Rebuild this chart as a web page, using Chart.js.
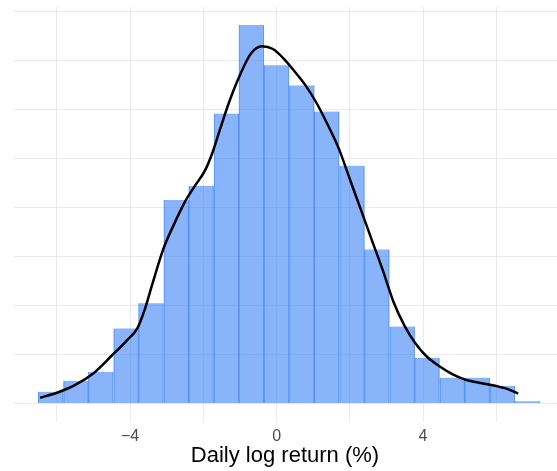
<!DOCTYPE html>
<html>
<head>
<meta charset="utf-8">
<script src="https://cdn.jsdelivr.net/npm/chart.js@4"></script>
<style>
  html, body { margin: 0; padding: 0; background: #fff; }
  #wrap { width: 557px; height: 471px; }
</style>
</head>
<body>
<div id="wrap"><canvas id="chart" width="557" height="471"></canvas></div>
<script>
// Histogram bins (centres, width 0.686) and density heights
const binCenters = [-6.17, -5.48, -4.80, -4.11, -3.43, -2.74, -2.06, -1.37, -0.69, 0.00,
                    0.69, 1.37, 2.06, 2.74, 3.43, 4.11, 4.80, 5.48, 6.17, 6.86];
const binDensity = [0.0060, 0.0116, 0.0162, 0.0383, 0.0512, 0.1038, 0.1110, 0.1479, 0.1930, 0.1725,
                    0.1622, 0.1489, 0.1213, 0.0786, 0.0393, 0.0234, 0.0132, 0.0132, 0.0091, 0.0012];

// Kernel density curve
const kdeX = [-6.46, -6.0, -5.5, -5.0, -4.5, -4.1, -3.8, -3.6, -3.4, -3.1, -2.8, -2.5, -2.25, -1.95,
              -1.75, -1.55, -1.3, -1.0, -0.7, -0.4, -0.1, 0.2, 0.5, 0.8, 1.1, 1.4, 1.7, 2.0,
              2.3, 2.6, 2.9, 3.2, 3.5, 3.8, 4.1, 4.47, 4.8, 5.15, 5.5, 5.83, 6.1, 6.3, 6.6];
const kdeY = [0.0030, 0.0055, 0.0095, 0.0155, 0.0245, 0.0320, 0.0385, 0.0480, 0.0605, 0.0785,
              0.0915, 0.1030, 0.1105, 0.1190, 0.1280, 0.1395, 0.1535, 0.1675, 0.1785, 0.1822,
              0.1808, 0.1758, 0.1692, 0.1620, 0.1530, 0.1420, 0.1300, 0.1145, 0.0990, 0.0835,
              0.0680, 0.0515, 0.0395, 0.0305, 0.0240, 0.0188, 0.0150, 0.0122, 0.0107, 0.0096,
              0.0085, 0.0075, 0.0051];

// Axis breaks
const xGrid = [-6, -4, -2, 0, 2, 4, 6];
const xLabelled = [-4, 0, 4];
const yGrid = [0, 0.025, 0.05, 0.075, 0.1, 0.125, 0.15, 0.175, 0.2];

const GRID = '#EBEBEB';
const FONT = '"Liberation Sans", Arial, sans-serif';

const ctx = document.getElementById('chart').getContext('2d');
new Chart(ctx, {
    data: {
        datasets: [
            {
                type: 'line',
                order: 0,
                data: kdeX.map((x, i) => ({ x: x, y: kdeY[i] })),
                borderColor: '#000',
                borderWidth: 2.5,
                pointRadius: 0,
                cubicInterpolationMode: 'monotone',
                fill: false
            },
            {
                type: 'bar',
                order: 1,
                data: binCenters.map((x, i) => ({ x: x, y: binDensity[i] })),
                backgroundColor: 'rgba(59,130,246,0.6)',
                borderColor: 'rgba(59,130,246,0.7)',
                borderWidth: { left: 0.5, right: 0.5, top: 0, bottom: 0 },
                barPercentage: 1,
                categoryPercentage: 1,
                grouped: false
            }
        ]
    },
    options: {
        responsive: false,
        animation: false,
        layout: { padding: { left: 13, right: 0, top: 7, bottom: 4 } },
        plugins: {
            legend: { display: false },
            tooltip: { enabled: false }
        },
        scales: {
            x: {
                type: 'linear',
                offset: false,
                min: -7.2,
                max: 7.66,
                afterBuildTicks: (scale) => { scale.ticks = xGrid.map(v => ({ value: v })); },
                grid: { color: GRID, lineWidth: 1, drawTicks: false, offset: false },
                border: { display: false },
                ticks: {
                    autoSkip: false,
                    maxRotation: 0,
                    padding: 7,
                    color: '#4D4D4D',
                    font: { family: FONT, size: 16, lineHeight: 1 },
                    callback: (v) => xLabelled.includes(v) ? String(v).replace('-', '\u2212') : ''
                },
                title: {
                    display: true,
                    text: 'Daily log return (%)',
                    color: '#000',
                    font: { family: FONT, size: 22, lineHeight: 1 },
                    padding: { top: -7, bottom: 0 }
                }
            },
            y: {
                min: -0.0094,
                max: 0.2022,
                afterBuildTicks: (scale) => { scale.ticks = yGrid.map(v => ({ value: v })); },
                grid: { color: GRID, lineWidth: 1, drawTicks: false },
                border: { display: false },
                ticks: { display: false }
            }
        }
    }
});
</script>
</body>
</html>
